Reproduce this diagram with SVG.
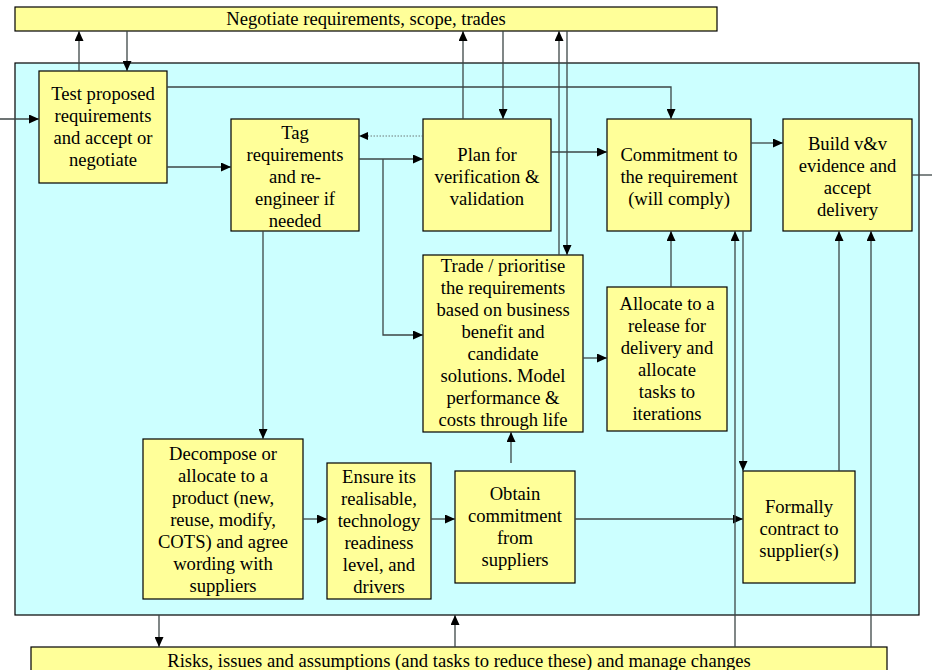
<svg xmlns="http://www.w3.org/2000/svg" width="932" height="670" viewBox="0 0 932 670">
<defs>
<marker id="ah" markerUnits="userSpaceOnUse" markerWidth="10" markerHeight="9" refX="10" refY="4.5" orient="auto">
<path d="M0,0 L10,4.5 L0,9 z" fill="#000"/>
</marker>
<marker id="ahs" markerUnits="userSpaceOnUse" markerWidth="9" markerHeight="8" refX="9" refY="4" orient="auto">
<path d="M0,0 L9,4 L0,8 z" fill="#000"/>
</marker>
</defs>
<style>
.box{fill:#ffff99;stroke:#000;stroke-width:1.2}
.bg{fill:#ccffff;stroke:#000;stroke-width:1.2}
text{font-family:"Liberation Serif","Times New Roman",serif;font-size:18.6px;fill:#000;text-anchor:middle}
.c{fill:none;stroke:#3c4646;stroke-width:1.3;marker-end:url(#ah)}
.n{fill:none;stroke:#3c4646;stroke-width:1.3}
.d{fill:none;stroke:#555;stroke-width:0.8;stroke-dasharray:1.5,1.5;marker-end:url(#ahs)}
</style>
<rect width="932" height="670" fill="#fff"/>
<g id="scope">
<rect class="bg" x="15" y="63" width="904" height="552"/>
</g>
<g id="negotiate">
<rect class="box" x="15" y="7" width="702" height="24"/>
<text x="366" y="25">Negotiate requirements, scope, trades</text>
</g>
<g id="risks">
<rect class="box" x="31" y="647" width="856" height="30"/>
<text x="459" y="667">Risks, issues and assumptions (and tasks to reduce these) and manage changes</text>
</g>
<g id="test">
<rect class="box" x="39" y="71" width="128" height="112"/>
<text x="103" y="100">Test proposed</text>
<text x="103" y="122">requirements</text>
<text x="103" y="144">and accept or</text>
<text x="103" y="166">negotiate</text>
</g>
<g id="tag">
<rect class="box" x="231" y="119" width="128" height="112"/>
<text x="295" y="139">Tag</text>
<text x="295" y="161">requirements</text>
<text x="295" y="183">and re-</text>
<text x="295" y="205">engineer if</text>
<text x="295" y="227">needed</text>
</g>
<g id="plan">
<rect class="box" x="423" y="119" width="128" height="112"/>
<text x="487" y="161">Plan for</text>
<text x="487" y="183">verification &amp;</text>
<text x="487" y="205">validation</text>
</g>
<g id="commitment">
<rect class="box" x="607" y="119" width="144" height="112"/>
<text x="679" y="161">Commitment to</text>
<text x="679" y="183">the requirement</text>
<text x="679" y="205">(will comply)</text>
</g>
<g id="build">
<rect class="box" x="783" y="119" width="129" height="112"/>
<text x="847.5" y="150">Build v&amp;v</text>
<text x="847.5" y="172">evidence and</text>
<text x="847.5" y="194">accept</text>
<text x="847.5" y="216">delivery</text>
</g>
<g id="trade">
<rect class="box" x="423" y="255" width="160" height="177"/>
<text x="503" y="272">Trade / prioritise</text>
<text x="503" y="294">the requirements</text>
<text x="503" y="316">based on business</text>
<text x="503" y="338">benefit and</text>
<text x="503" y="360">candidate</text>
<text x="503" y="382">solutions. Model</text>
<text x="503" y="404">performance &amp;</text>
<text x="503" y="426">costs through life</text>
</g>
<g id="allocate">
<rect class="box" x="607" y="287" width="120" height="144"/>
<text x="667" y="310">Allocate to a</text>
<text x="667" y="332">release for</text>
<text x="667" y="354">delivery and</text>
<text x="667" y="376">allocate</text>
<text x="667" y="398">tasks to</text>
<text x="667" y="420">iterations</text>
</g>
<g id="decompose">
<rect class="box" x="143" y="439" width="160" height="160"/>
<text x="223" y="460">Decompose or</text>
<text x="223" y="482">allocate to a</text>
<text x="223" y="504">product (new,</text>
<text x="223" y="526">reuse, modify,</text>
<text x="223" y="548">COTS) and agree</text>
<text x="223" y="570">wording with</text>
<text x="223" y="592">suppliers</text>
</g>
<g id="ensure">
<rect class="box" x="327" y="463" width="104" height="136"/>
<text x="379" y="483">Ensure its</text>
<text x="379" y="505">realisable,</text>
<text x="379" y="527">technology</text>
<text x="379" y="549">readiness</text>
<text x="379" y="571">level, and</text>
<text x="379" y="593">drivers</text>
</g>
<g id="obtain">
<rect class="box" x="455" y="471" width="120" height="112"/>
<text x="515" y="500">Obtain</text>
<text x="515" y="522">commitment</text>
<text x="515" y="544">from</text>
<text x="515" y="566">suppliers</text>
</g>
<g id="formally">
<rect class="box" x="743" y="471" width="112" height="112"/>
<text x="799" y="513">Formally</text>
<text x="799" y="535">contract to</text>
<text x="799" y="557">supplier(s)</text>
</g>
<g id="connectors">
<path class="c" d="M0,119 H39"/>
<path class="c" d="M79,71 V31"/>
<path class="c" d="M127,31 V71"/>
<path class="c" d="M167,87 H671 V119"/>
<path class="c" d="M167,167 H231"/>
<path class="d" d="M423,136 H359"/>
<path class="c" d="M359,159 H423"/>
<path class="c" d="M383,159 V335 H423"/>
<path class="c" d="M463,119 V31"/>
<path class="c" d="M503,31 V119"/>
<path class="c" d="M559,255 V31"/>
<path class="c" d="M567,31 V255"/>
<path class="c" d="M551,152 H607"/>
<path class="c" d="M263,231 V439"/>
<path class="c" d="M303,519 H327"/>
<path class="c" d="M431,519 H455"/>
<path class="c" d="M511,463 V432"/>
<path class="c" d="M575,519 H743"/>
<path class="c" d="M583,358 H607"/>
<path class="c" d="M671,287 V231"/>
<path class="c" d="M751,143 H783"/>
<path class="n" d="M912,175 H932"/>
<path class="c" d="M735,647 V231"/>
<path class="c" d="M743,231 V471"/>
<path class="c" d="M839,471 V231"/>
<path class="c" d="M871,647 V231"/>
<path class="c" d="M159,615 V647"/>
<path class="c" d="M455,647 V615"/>
</g>
</svg>
